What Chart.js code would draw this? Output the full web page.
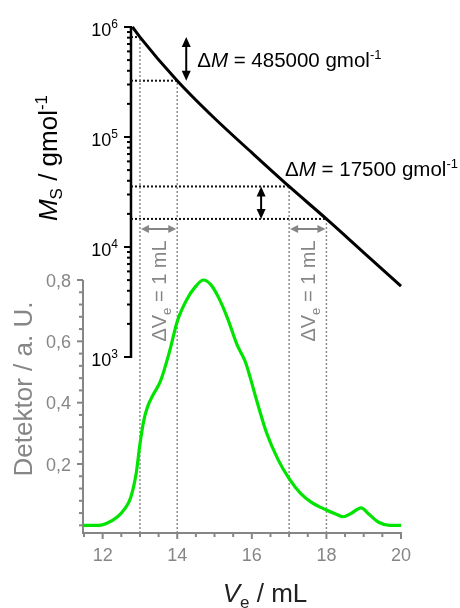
<!DOCTYPE html>
<html>
<head>
<meta charset="utf-8">
<script src="https://cdn.jsdelivr.net/npm/chart.js@4.4.1/dist/chart.umd.min.js"></script>
<style>
  html, body { margin: 0; padding: 0; background: #fff; }
  #gpcChart { display: block; }
</style>
</head>
<body>
<canvas id="gpcChart" width="460" height="608"></canvas>
<script>
  // tick labels
  const volumeTicks = [12, 14, 16, 18, 20];
  const detectorTicks = [0.2, 0.4, 0.6, 0.8];
  const massTicks = [1e3, 1e4, 1e5, 1e6];

  // calibration curve, molar mass vs. elution volume
  const calibVolume = [12.8, 13, 14, 15, 16, 17, 18, 19, 20];
  const calibMass = [1000000, 810000, 325000, 148000, 72000, 35500, 18000, 8900, 4400];

  // detector trace
  const detVolume = [11.5, 11.9, 12.1, 12.4, 12.6, 12.75, 12.9, 13.0, 13.1, 13.2, 13.35, 13.55, 13.8, 14.0,
    14.25, 14.5, 14.7, 14.9, 15.1, 15.35, 15.6, 15.82, 15.95, 16.1, 16.4, 16.7, 17.0, 17.3, 17.6, 18.0,
    18.25, 18.45, 18.65, 18.93, 19.15, 19.4, 19.7, 20.0];
  const detSignal = [0.0, 0.0, 0.006, 0.028, 0.055, 0.09, 0.17, 0.265, 0.34, 0.385, 0.425, 0.47, 0.57, 0.665,
    0.735, 0.78, 0.80, 0.785, 0.745, 0.675, 0.59, 0.535, 0.485, 0.42, 0.30, 0.215, 0.152, 0.105, 0.075, 0.05,
    0.037, 0.028, 0.038, 0.057, 0.035, 0.01, 0.0, 0.0];

  // 1 mL slices taken from the calibration
  const sliceVolume = [13, 14, 17, 18];
  const sliceMass = [810000, 325000, 35500, 18000];

  const GREY = '#868686';
  const FONT = '"Liberation Sans", Arial, sans-serif';
  const LOG_MIN = Math.pow(10, 1.4);
  const DET_MIN = -0.025;
  const DET_MAX = 1.625;
  const MASS_AXIS_AT = 12.76;

  function font(size, italic) {
    return (italic ? 'italic ' : '') + size + 'px ' + FONT;
  }

  // pieces: [text, size, italic, rise]
  function drawRich(ctx, pieces, x, y, align) {
    let w = 0;
    pieces.forEach(p => { ctx.font = font(p[1], p[2]); w += ctx.measureText(p[0]).width; });
    let cx = align === 'center' ? x - w / 2 : align === 'right' ? x - w : x;
    ctx.textAlign = 'left';
    ctx.textBaseline = 'alphabetic';
    pieces.forEach(p => {
      ctx.font = font(p[1], p[2]);
      ctx.fillText(p[0], cx, y - (p[3] || 0));
      cx += ctx.measureText(p[0]).width;
    });
  }

  function doubleArrow(ctx, x1, y1, x2, y2, color, head, halfW) {
    const a = Math.atan2(y2 - y1, x2 - x1);
    ctx.save();
    ctx.strokeStyle = color;
    ctx.fillStyle = color;
    ctx.lineWidth = 2;
    ctx.beginPath();
    ctx.moveTo(x1 + Math.cos(a) * head * 0.8, y1 + Math.sin(a) * head * 0.8);
    ctx.lineTo(x2 - Math.cos(a) * head * 0.8, y2 - Math.sin(a) * head * 0.8);
    ctx.stroke();
    [[x1, y1, a + Math.PI], [x2, y2, a]].forEach(([px, py, ang]) => {
      const bx = px - Math.cos(ang) * head, by = py - Math.sin(ang) * head;
      ctx.beginPath();
      ctx.moveTo(px, py);
      ctx.lineTo(bx + Math.sin(ang) * halfW, by - Math.cos(ang) * halfW);
      ctx.lineTo(bx - Math.sin(ang) * halfW, by + Math.cos(ang) * halfW);
      ctx.closePath();
      ctx.fill();
    });
    ctx.restore();
  }

  function tick(ctx, x1, y1, x2, y2) {
    ctx.beginPath();
    ctx.moveTo(x1, y1);
    ctx.lineTo(x2, y2);
    ctx.stroke();
  }

  const gpcAxes = {
    id: 'gpcAxes',
    beforeDatasetsDraw(chart) {
      const { ctx, scales: { x, yDet, yLog } } = chart;
      const bottom = yDet.getPixelForValue(DET_MIN);
      ctx.save();

      // elution volume axis
      ctx.strokeStyle = GREY;
      ctx.fillStyle = GREY;
      ctx.lineWidth = 2;
      tick(ctx, x.left - 2, bottom, x.right + 1, bottom);
      for (let v = x.min; v <= x.max + 1e-9; v += 0.5) {
        const px = x.getPixelForValue(v);
        tick(ctx, px, bottom, px, bottom + (volumeTicks.includes(v) ? 6 : 4));
      }
      ctx.font = font(18);
      ctx.textAlign = 'center';
      ctx.textBaseline = 'alphabetic';
      volumeTicks.forEach(v => ctx.fillText(String(v), x.getPixelForValue(v), bottom + 28));

      // detector axis
      const dx = x.left - 1;
      const top = yDet.getPixelForValue(detectorTicks[detectorTicks.length - 1]);
      tick(ctx, dx, bottom + 1, dx, top);
      for (let k = 0; k <= 20; k++) {
        const py = yDet.getPixelForValue(k * 0.04);
        tick(ctx, dx, py, dx - (k % 5 === 0 && k > 0 ? 6 : 4), py);
      }
      ctx.font = font(18);
      ctx.textAlign = 'right';
      detectorTicks.forEach(v => {
        ctx.fillText(v.toFixed(1).replace('.', ','), dx - 12, yDet.getPixelForValue(v) + 6.5);
      });

      // molar mass axis
      const lx = x.getPixelForValue(MASS_AXIS_AT);
      ctx.strokeStyle = '#000';
      ctx.fillStyle = '#000';
      ctx.lineWidth = 2.5;
      tick(ctx, lx, yLog.getPixelForValue(massTicks[0]) + 1, lx, yLog.getPixelForValue(massTicks[massTicks.length - 1]) - 1);
      ctx.lineWidth = 2;
      massTicks.forEach((m, i) => {
        const py = yLog.getPixelForValue(m);
        tick(ctx, lx, py, lx - 7, py);
        if (i < massTicks.length - 1) {
          for (let k = 2; k <= 9; k++) {
            const my = yLog.getPixelForValue(m * k);
            tick(ctx, lx, my, lx - 4, my);
          }
        }
        drawRich(ctx, [['10', 18], [String(Math.round(Math.log10(m))), 12, false, 8.5]], lx - 13, py + 9, 'right');
      });

      // axis titles
      ctx.fillStyle = '#000';
      ctx.save();
      ctx.translate(57, 158);
      ctx.rotate(-Math.PI / 2);
      drawRich(ctx, [['M', 26, true], ['S', 17, false, -5], [' / gmol', 26], ['-1', 17, false, 10]], 0, 0, 'center');
      ctx.restore();

      ctx.fillStyle = GREY;
      ctx.save();
      ctx.translate(32, 389);
      ctx.rotate(-Math.PI / 2);
      drawRich(ctx, [['Detektor / a. U.', 26]], 0, 0, 'center');
      ctx.restore();

      ctx.fillStyle = '#222';
      drawRich(ctx, [['V', 26, true], ['e', 17, false, -6], [' / mL', 26]], 265, 602, 'center');

      ctx.restore();
    },
    afterDatasetsDraw(chart) {
      const { ctx, scales: { x, yLog } } = chart;
      const px = sliceVolume.map(v => x.getPixelForValue(v));
      const py = sliceMass.map(m => yLog.getPixelForValue(m));
      ctx.save();

      // mass differences
      doubleArrow(ctx, px[1] + 9, py[0], px[1] + 9, py[1], '#000', 10, 4.5);
      doubleArrow(ctx, px[2] - 28, py[2], px[2] - 28, py[3], '#000', 10, 4.5);
      ctx.fillStyle = '#000';
      drawRich(ctx, [['Δ', 20.5], ['M', 20.5, true], [' = ' + (sliceMass[0] - sliceMass[1]) + ' gmol', 20.5], ['-1', 13, false, 8]],
        px[1] + 20, (py[0] + py[1]) / 2 + 8, 'left');
      drawRich(ctx, [['Δ', 20.5], ['M', 20.5, true], [' = ' + (sliceMass[2] - sliceMass[3]) + ' gmol', 20.5], ['-1', 13, false, 8]],
        px[2] - 4, py[2] - 10, 'left');

      // 1 mL volume slices
      const ay = yLog.getPixelForValue(1e4) - 18;
      doubleArrow(ctx, px[0] + 1, ay, px[1] - 1, ay, GREY, 8, 4);
      doubleArrow(ctx, px[2] + 1, ay, px[3] - 1, ay, GREY, 8, 4);
      ctx.fillStyle = GREY;
      [[px[0], px[1]], [px[2], px[3]]].forEach(([a, b]) => {
        ctx.save();
        ctx.translate((a + b) / 2 + 7, ay + 62);
        ctx.rotate(-Math.PI / 2);
        drawRich(ctx, [['ΔV', 20], ['e', 13, false, -5], [' = 1 mL', 20]], 0, 0, 'center');
        ctx.restore();
      });
      ctx.restore();
    }
  };

  const guide = { pointRadius: 0, fill: false, clip: false, borderDash: [2, 2], order: 3, yAxisID: 'yLog' };
  const verticalGuides = sliceVolume.map((v, i) => Object.assign({
    data: [{ x: v, y: LOG_MIN }, { x: v, y: sliceMass[i] }],
    borderColor: '#8c8c8c', borderWidth: 1.5
  }, guide));
  const horizontalGuides = sliceVolume.map((v, i) => Object.assign({
    data: [{ x: MASS_AXIS_AT, y: sliceMass[i] }, { x: v, y: sliceMass[i] }],
    borderColor: '#111', borderWidth: 2
  }, guide));

  const ctx = document.getElementById('gpcChart').getContext('2d');
  const gpcChart = new Chart(ctx, {
    type: 'line',
    data: {
      datasets: [
        ...verticalGuides,
        ...horizontalGuides,
        {
          label: 'Detektor',
          data: detVolume.map((v, i) => ({ x: v, y: detSignal[i] })),
          yAxisID: 'yDet',
          borderColor: '#00e400',
          borderWidth: 3.2,
          pointRadius: 0,
          cubicInterpolationMode: 'monotone',
          clip: false,
          order: 2
        },
        {
          label: 'Kalibrierung',
          data: calibVolume.map((v, i) => ({ x: v, y: calibMass[i] })),
          yAxisID: 'yLog',
          borderColor: '#000',
          borderWidth: 3,
          pointRadius: 0,
          cubicInterpolationMode: 'monotone',
          clip: false,
          order: 1
        }
      ]
    },
    options: {
      responsive: false,
      devicePixelRatio: 1,
      animation: false,
      events: [],
      layout: { padding: { left: 84, right: 59, top: 27, bottom: 75 } },
      plugins: { legend: { display: false }, tooltip: { enabled: false } },
      scales: {
        x: { type: 'linear', min: 11.5, max: 20, display: false },
        yDet: { type: 'linear', position: 'left', min: DET_MIN, max: DET_MAX, display: false },
        yLog: { type: 'logarithmic', position: 'left', min: LOG_MIN, max: 1e6, display: false }
      }
    },
    plugins: [gpcAxes]
  });
</script>
</body>
</html>
